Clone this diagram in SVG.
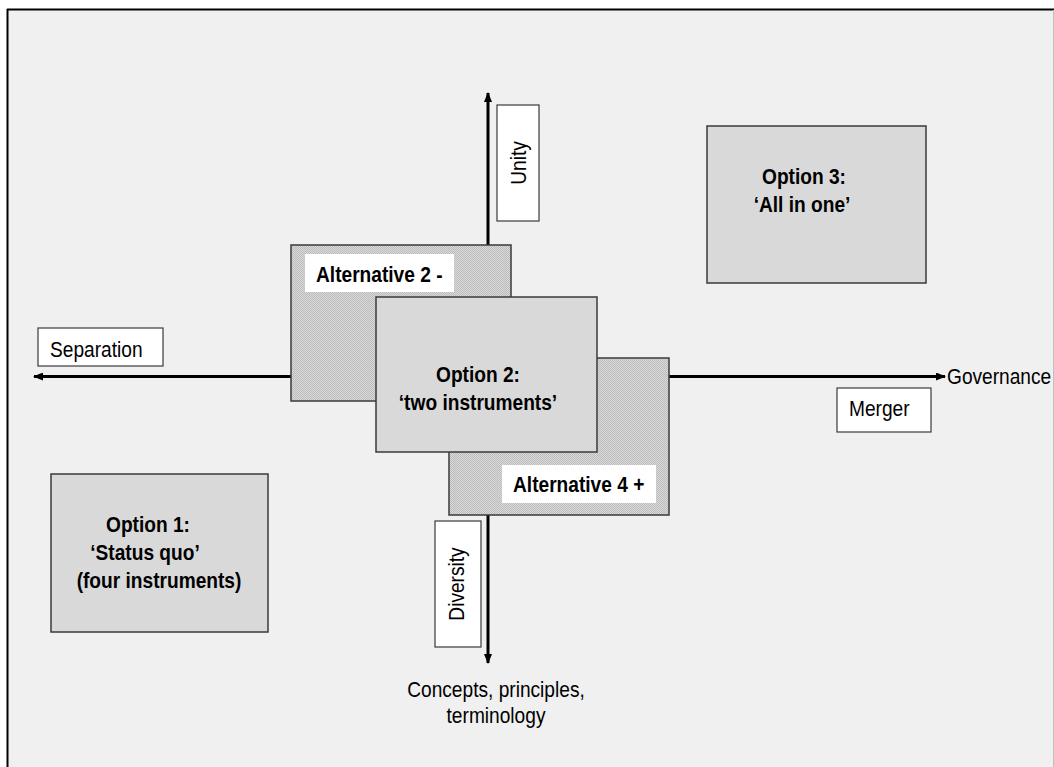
<svg xmlns="http://www.w3.org/2000/svg" width="1054" height="767" viewBox="0 0 1054 767">
<style>
.opt{fill:#d9d9d9;stroke:#3a3a3a;stroke-width:1.5}
.alt{fill:url(#hatch);stroke:#3a3a3a;stroke-width:1.5}
.lbl{fill:#ffffff;stroke:#3a3a3a;stroke-width:1.2}
.wlbl{fill:#ffffff;stroke:none}
.t{font-family:"Liberation Sans",Arial,sans-serif;font-size:22px;fill:#000}
.b{font-family:"Liberation Sans",Arial,sans-serif;font-size:22px;font-weight:bold;fill:#000}
.axis{stroke:#000;stroke-width:3;fill:none}
</style>
<defs>
<pattern id="hatch" width="2" height="2" patternUnits="userSpaceOnUse">
<rect width="2" height="2" fill="#d8d8d8"/>
<rect x="0" y="0" width="1" height="1" fill="#bdbdbd"/>
<rect x="1" y="1" width="1" height="1" fill="#bdbdbd"/>
</pattern>
<marker id="arr" markerWidth="10" markerHeight="8" refX="9" refY="4" orient="auto-start-reverse" markerUnits="userSpaceOnUse">
<path d="M0,0 L10,4 L0,8 Z" fill="#000"/>
</marker>
</defs>
<rect x="0" y="0" width="1054" height="767" fill="#ffffff"/>
<rect x="8" y="10" width="1046" height="757" fill="#f0f0f0"/>
<line x1="7.5" y1="9" x2="7.5" y2="767" stroke="#000" stroke-width="2"/>
<line x1="7" y1="9.5" x2="1054" y2="9.5" stroke="#000" stroke-width="2"/>
<line x1="1053.5" y1="10" x2="1053.5" y2="767" stroke="#c0c0c0" stroke-width="1"/>

<g id="connectors">
<line class="axis" x1="488" y1="93" x2="488" y2="663" marker-start="url(#arr)" marker-end="url(#arr)"/>
<line class="axis" x1="34" y1="376.5" x2="945" y2="376.5" marker-start="url(#arr)" marker-end="url(#arr)"/>
</g>

<g id="unity">
<rect class="lbl" x="497" y="105" width="42" height="116"/>
<text class="t" transform="translate(526,163) rotate(-90) scale(0.87,1)" text-anchor="middle">Unity</text>
</g>

<g id="diversity">
<rect class="lbl" x="435" y="521" width="46" height="126"/>
<text class="t" transform="translate(464,584) rotate(-90) scale(0.87,1)" text-anchor="middle">Diversity</text>
</g>

<g id="separation">
<rect class="lbl" x="38" y="328" width="125" height="38"/>
<text class="t" transform="translate(50,357) scale(0.87,1)">Separation</text>
</g>

<g id="merger">
<rect class="lbl" x="837" y="388" width="94" height="44"/>
<text class="t" transform="translate(849,416) scale(0.87,1)">Merger</text>
</g>

<g id="governance">
<text class="t" transform="translate(947,384) scale(0.87,1)">Governance</text>
</g>

<g id="concepts">
<text class="t" transform="translate(496,697) scale(0.87,1)" text-anchor="middle">Concepts, principles,</text>
<text class="t" transform="translate(496,723) scale(0.87,1)" text-anchor="middle">terminology</text>
</g>

<g id="option3">
<rect class="opt" x="707" y="126" width="219" height="157"/>
<text class="b" transform="translate(804,184) scale(0.87,1)" text-anchor="middle">Option 3:</text>
<text class="b" transform="translate(802,212) scale(0.87,1)" text-anchor="middle">‘All in one’</text>
</g>

<g id="option1">
<rect class="opt" x="51" y="474" width="217" height="158"/>
<text class="b" transform="translate(148,532) scale(0.87,1)" text-anchor="middle">Option 1:</text>
<text class="b" transform="translate(145,560) scale(0.87,1)" text-anchor="middle">‘Status quo’</text>
<text class="b" transform="translate(159,588) scale(0.87,1)" text-anchor="middle">(four instruments)</text>
</g>

<g id="alternative2">
<rect class="alt" x="291" y="245" width="220" height="156"/>
<rect class="wlbl" x="305" y="254" width="149" height="38"/>
<text class="b" transform="translate(316,282) scale(0.87,1)">Alternative 2 -</text>
</g>

<g id="alternative4">
<rect class="alt" x="449" y="358" width="220" height="157"/>
<rect class="wlbl" x="502" y="465" width="154" height="38"/>
<text class="b" transform="translate(513,492) scale(0.87,1)">Alternative 4 +</text>
</g>

<g id="option2">
<rect class="opt" x="376" y="297" width="221" height="155"/>
<text class="b" transform="translate(478,382) scale(0.87,1)" text-anchor="middle">Option 2:</text>
<text class="b" transform="translate(478,410) scale(0.87,1)" text-anchor="middle">‘two instruments’</text>
</g>
</svg>
